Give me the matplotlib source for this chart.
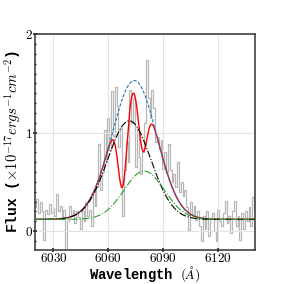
import numpy as np
import matplotlib
matplotlib.use('Agg')
import matplotlib.pyplot as plt
from matplotlib.ticker import MultipleLocator

plt.rcParams['mathtext.fontset'] = 'cm'

wave = np.arange(6020, 6141)
flux = [0.25, 0.33, 0.18, 0.30, 0.20, -0.09, 0.22, 0.17, 0.28, 0.18,
        0.24, 0.15, 0.38, 0.20, 0.26, 0.12, 0.22, -0.19, 0.10, 0.26,
        0.16, 0.22, 0.08, 0.20, 0.14, 0.02, 0.20, 0.10, 0.30, 0.15,
        0.22, 0.05, 0.40, 0.26, 0.45, 0.88, 0.42, 0.60, 1.03, 0.70,
        1.15, 0.82, 1.42, 0.97, 1.46, 1.27, 0.85, 1.05, 0.15, 0.62,
        0.90, 0.70, 1.43, 1.10, 1.35, 0.65, 1.05, 0.75, 0.58, 0.80,
        1.10, 1.74, 1.35, 1.15, 1.43, 1.25, 0.90, 0.96, 0.83, 0.93,
        0.63, 0.80, 0.60, 0.88, 0.62, 0.50, 0.58, 0.45, 0.70, 0.40,
        0.50, 0.36, 0.42, 0.25, 0.01, 0.30, 0.16, 0.26, 0.11, 0.20,
        0.05, -0.10, 0.15, 0.02, 0.20, -0.05, 0.12, 0.18, 0.00, -0.10,
        0.21, 0.10, 0.05, 0.18, 0.31, 0.08, 0.15, -0.02, 0.20, 0.31,
        0.05, 0.15, -0.09, 0.18, 0.02, 0.20, 0.10, 0.25, 0.05, 0.35,
        0.20]

# fit parameters (amplitude, centre, sigma)
continuum = 0.12
broad1 = (1.00, 6071.4, 11.8)
broad2 = (0.49, 6079.5, 11.0)
absorb = [(0.90, 6067.8, 2.5), (0.62, 6078.7, 2.4)]


def gauss(x, p):
    a, c, s = p
    return a * np.exp(-(x - c) ** 2 / (2 * s ** 2))


x = np.linspace(6020, 6140, 1200)
comp1 = continuum + gauss(x, broad1)
comp2 = continuum + gauss(x, broad2)
total = continuum + gauss(x, broad1) + gauss(x, broad2)
fit = total.copy()
for p in absorb:
    fit = fit - gauss(x, p)

fig = plt.figure(figsize=(2.83, 2.84), dpi=100)
ax = fig.add_axes([0.124, 0.12, 0.777, 0.76])

ax.grid(True, color='#e3e3e3', lw=0.8, zorder=0)
ax.step(wave, flux, where='mid', color='#b8b8b8', lw=0.9, zorder=1)
ax.plot(x, total, color='#1f77b4', ls='--', lw=0.8, dashes=(3, 1.5), zorder=3)
ax.plot(x, fit, color='red', lw=1.0, zorder=2)
ax.plot(x, comp1, color='black', ls='-.', lw=0.8, zorder=3)
ax.plot(x, comp2, color='#2ca02c', ls='-.', lw=0.8, zorder=3)

ax.set_xlim(6020, 6140)
ax.set_ylim(-0.19, 2.0)
ax.set_xticks([6030, 6060, 6090, 6120])
ax.set_xticklabels(['$6030$', '$6060$', '$6090$', '$6120$'])
ax.set_yticks([0, 1, 2])
ax.set_yticklabels(['$0$', '$1$', '$2$'])
ax.yaxis.set_minor_locator(MultipleLocator(0.1))
ax.tick_params(which='both', direction='inout', length=2.5, width=1.2,
               color='#222222', labelsize=9.5, pad=0.5)
ax.tick_params(which='minor', length=2, width=1.0)
for sp in ax.spines.values():
    sp.set_color('#333333')
    sp.set_linewidth(1.1)

ax.set_xlabel(r'Wavelength $(\AA)$', family='Liberation Mono',
              weight='bold', fontsize=10, labelpad=-0.5)
ax.set_ylabel(r'Flux ($\times10^{-17}ergs^{-1}cm^{-2}$)',
              family='Liberation Mono', weight='bold', fontsize=10.5,
              labelpad=1)

fig.savefig('out.png', dpi=100)
